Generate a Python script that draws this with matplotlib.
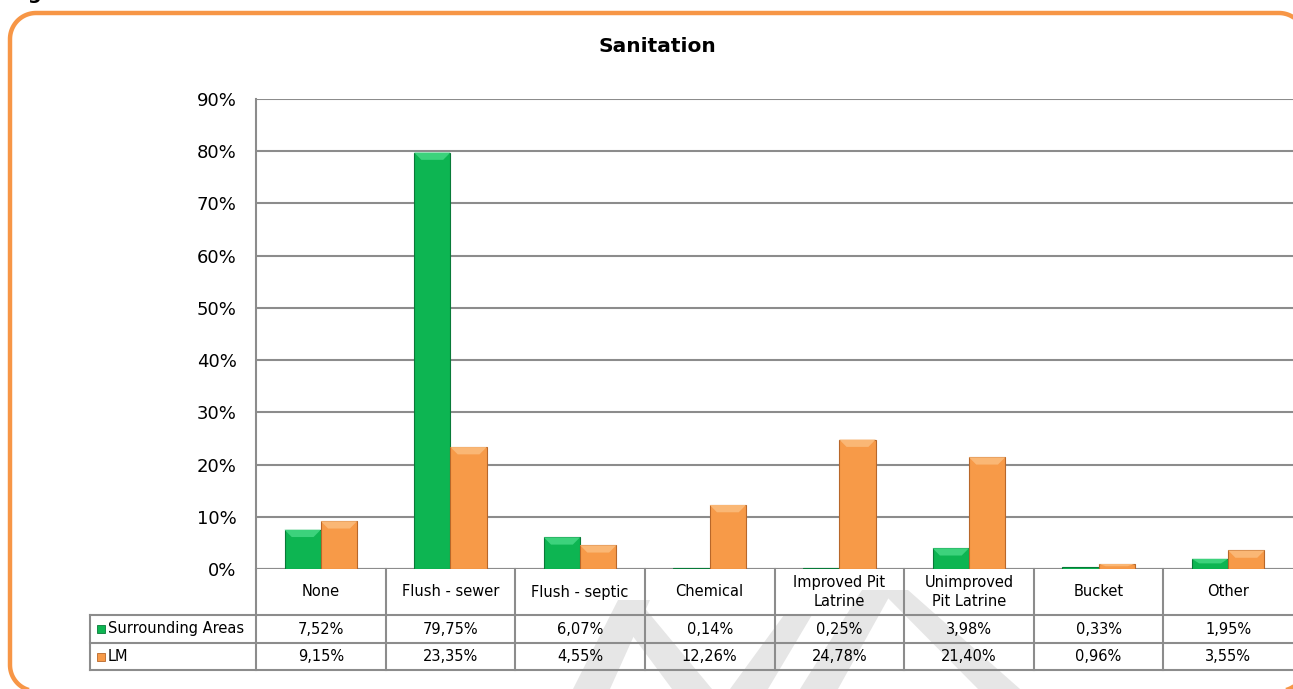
import numpy as np
import matplotlib.pyplot as plt
from matplotlib.patches import Polygon, Rectangle
from matplotlib.transforms import blended_transform_factory, IdentityTransform

# Sanitation shares (%) per area
categories = ['None', 'Flush - sewer', 'Flush - septic', 'Chemical',
              'Improved Pit\nLatrine', 'Unimproved\nPit Latrine', 'Bucket', 'Other']
series_names = ['Surrounding Areas', 'LM']
surrounding = [7.52, 79.75, 6.07, 0.14, 0.25, 3.98, 0.33, 1.95]
lm = [9.15, 23.35, 4.55, 12.26, 24.78, 21.40, 0.96, 3.55]
y_ticks = [0, 10, 20, 30, 40, 50, 60, 70, 80, 90]

green, green_top, green_dark = '#0DB552', '#3CD27C', '#087A38'
orange, orange_top, orange_dark = '#F79A48', '#FAB775', '#B8672A'
grid_col = '#8C8C8C'

W, H = 1293, 689
fig = plt.figure(figsize=(W / 100, H / 100), dpi=100)


def fy(y):
    # pixel row (from top) -> figure fraction
    return 1 - y / H


def fx(x):
    return x / W


# plot area
left, right, top, bottom = 256, W, 99, 569
ax = fig.add_axes([fx(left), fy(bottom), fx(right - left), (bottom - top) / H])
ax.set_xlim(-0.5, len(categories) - 0.5)
ax.set_ylim(0, 90)
ax.set_yticks(y_ticks)
ax.set_yticklabels([f'{t}%' for t in y_ticks], fontsize=13)
ax.tick_params(axis='y', length=0, pad=14)
ax.set_xticks([])
ax.yaxis.grid(True, color=grid_col, linewidth=1.5)
ax.set_axisbelow(True)
for s in ['top', 'right', 'bottom']:
    ax.spines[s].set_visible(False)
ax.spines['left'].set_color(grid_col)
ax.spines['left'].set_linewidth(1.5)

# bars with a bevelled top
xs = np.arange(len(categories))
bw = 0.28
bars_s = ax.bar(xs - bw / 2, surrounding, bw, color=green, edgecolor=green_dark,
                linewidth=0.8, zorder=3)
bars_l = ax.bar(xs + bw / 2, lm, bw, color=orange, edgecolor=orange_dark,
                linewidth=0.8, zorder=3)


def bevel(bars, light):
    for b in bars:
        x0, w, h = b.get_x(), b.get_width(), b.get_height()
        if h < 0.5:
            continue
        dx = w * 0.2
        dy = min(1.4, h * 0.45)
        ax.add_patch(Polygon([(x0, h), (x0 + w, h), (x0 + w - dx, h - dy), (x0 + dx, h - dy)],
                             closed=True, facecolor=light, edgecolor='none', zorder=4))


bevel(bars_s, green_top)
bevel(bars_l, orange_top)

# data table under the axis
tr = blended_transform_factory(ax.transData, fig.transFigure)
row_lines = [569, 615, 643, 670]
tbl_left = 90
line_kw = dict(color=grid_col, linewidth=1.5, clip_on=False)

for y in row_lines[1:]:
    fig.add_artist(plt.Line2D([fx(tbl_left), 1], [fy(y), fy(y)], transform=fig.transFigure, **line_kw))
fig.add_artist(plt.Line2D([fx(tbl_left), fx(tbl_left)], [fy(615), fy(670)], transform=fig.transFigure, **line_kw))
fig.add_artist(plt.Line2D([fx(left), fx(left)], [fy(569), fy(670)], transform=fig.transFigure, **line_kw))
ax.axhline(0, color=grid_col, linewidth=1.5, zorder=2)
for i in range(1, len(categories)):
    ax.add_line(plt.Line2D([i - 0.5, i - 0.5], [fy(569), fy(670)], transform=tr, **line_kw))

for i, c in enumerate(categories):
    ax.text(i, fy(592), c, transform=tr, ha='center', va='center', fontsize=10.5,
            linespacing=1.3, clip_on=False)

row_centers = [629, 656.5]
for vals, yc in zip([surrounding, lm], row_centers):
    for i, v in enumerate(vals):
        ax.text(i, fy(yc), f'{v:.2f}'.replace('.', ',') + '%', transform=tr,
                ha='center', va='center', fontsize=10.5, clip_on=False)

for name, col, edge, yc in zip(series_names, [green, orange], [green_dark, orange_dark], row_centers):
    fig.add_artist(Rectangle((fx(97), fy(yc + 4)), fx(8), 8 / H, transform=fig.transFigure,
                             facecolor=col, edgecolor=edge, linewidth=0.6))
    fig.text(fx(108), fy(yc), name, ha='left', va='center', fontsize=10.5)

fig.text(fx(657), fy(46), 'Sanitation', ha='center', va='center', fontsize=14.5, fontweight='bold')

# caption above the frame (mostly off the page)
fig.text(fx(8), fy(-1), 'Figure', ha='left', va='baseline', fontsize=14, fontweight='bold')

# faint watermark strokes behind the table
wm_col = '#E6E6E6'
strokes = [
    [(573, 689), (610, 689), (650, 600), (618, 600)],
    [(615, 612), (638, 600), (712, 689), (672, 689)],
    [(730, 689), (768, 689), (812, 615), (784, 615)],
    [(800, 689), (838, 689), (893, 590), (862, 590)],
    [(880, 590), (908, 590), (1020, 689), (978, 689)],
]
for pts in strokes:
    fig.add_artist(Polygon([(fx(x), fy(y)) for x, y in pts], closed=True, transform=fig.transFigure,
                           facecolor=wm_col, edgecolor='none', zorder=-1))


# rounded orange frame, traced as a polyline in pixel units
def rounded_rect(x0, y0, x1, y1, r, n=24):
    pts = []
    corners = [(x1 - r, y1 - r, 0), (x0 + r, y1 - r, 90), (x0 + r, y0 + r, 180), (x1 - r, y0 + r, 270)]
    for cx, cy, a0 in corners:
        t = np.radians(np.linspace(a0, a0 + 90, n))
        pts += list(zip(cx + r * np.cos(t), cy + r * np.sin(t)))
    return pts


frame = Polygon(rounded_rect(10, -2, 1305, 676, 26), closed=True, facecolor='none',
                edgecolor='#F79646', linewidth=3.2, zorder=5)
frame.set_transform(IdentityTransform())
fig.add_artist(frame)

fig.savefig('out.png', dpi=100)
